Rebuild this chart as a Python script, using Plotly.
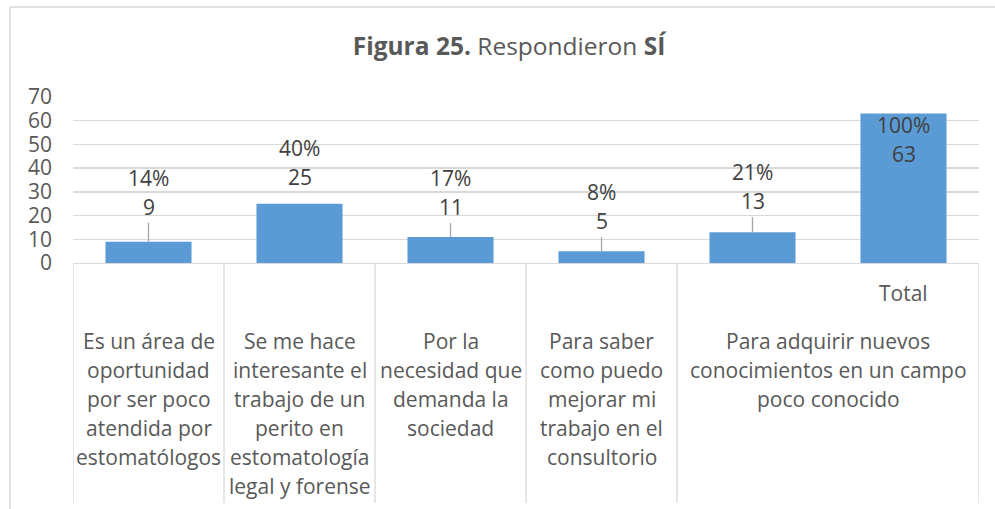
import plotly.graph_objects as go

# ---------------- data ----------------
values = [9, 25, 11, 5, 13, 63]
inner_labels = ["", "", "", "", "", "Total"]
outer_labels = [
    "Es un área de<br>oportunidad<br>por ser poco<br>atendida por<br>estomatólogos",
    "Se me hace<br>interesante el<br>trabajo de un<br>perito en<br>estomatología<br>legal y forense",
    "Por la<br>necesidad que<br>demanda la<br>sociedad",
    "Para saber<br>como puedo<br>mejorar mi<br>trabajo en el<br>consultorio",
    "Para adquirir nuevos<br>conocimientos en un campo<br>poco conocido",
]
outer_spans = [(0, 0), (1, 1), (2, 2), (3, 3), (4, 5)]
y_ticks = [0, 10, 20, 30, 40, 50, 60, 70]
total = values[-1]
percent_labels = [f"{round(v / total * 100)}%" for v in values]

# ---------------- style ----------------
W, H = 995, 509
ML, MR, MT, MB = 73, 16, 97, 246
FONT = "Open Sans, Noto Sans, sans-serif"
FS = 21
BAR_COLOR = "#5B9BD5"
TXT = "#595959"
LBL = "#404040"
GRID = "#D9D9D9"
label_shift_px = [35, 27, 30, 30, 31, -40]   # label position above bar top (manual, as in source)
show_leader = [True, False, True, True, True, False]
LINE_H = 29

x = list(range(len(values)))

fig = go.Figure()
fig.add_trace(go.Bar(
    x=x, y=values, marker=dict(color=BAR_COLOR, line=dict(width=0)),
    hoverinfo="skip", showlegend=False,
))

annotations = []
shapes = []

# data labels
for i, v in enumerate(values):
    s = label_shift_px[i]
    annotations.append(dict(x=i, y=v, xref="x", yref="y", text=str(v), showarrow=False,
                            yshift=s, yanchor="middle", xanchor="center",
                            font=dict(family=FONT, size=FS, color=LBL)))
    annotations.append(dict(x=i, y=v, xref="x", yref="y", text=percent_labels[i], showarrow=False,
                            yshift=s + LINE_H, yanchor="middle", xanchor="center",
                            font=dict(family=FONT, size=FS, color=LBL)))
    if show_leader[i]:
        shapes.append(dict(type="line", xref="x", yref="y", ysizemode="pixel", yanchor=v,
                           x0=i, x1=i, y0=0, y1=s - 16,
                           line=dict(color="#A6A6A6", width=1.3)))

# inner category labels
for i, t in enumerate(inner_labels):
    if t:
        annotations.append(dict(x=i, y=0, xref="x", yref="paper", text=t, showarrow=False,
                                yshift=-(293 - (H - MB)), yanchor="middle", xanchor="center",
                                font=dict(family=FONT, size=FS, color=TXT)))

# outer category labels (one annotation per line for Excel-like spacing)
for lab, (a, b) in zip(outer_labels, outer_spans):
    cx = (a + b) / 2
    for k, line in enumerate(lab.split("<br>")):
        annotations.append(dict(x=cx, y=0, xref="x", yref="paper", text=line, showarrow=False,
                                yshift=-(341 + k * LINE_H - (H - MB)), yanchor="middle",
                                xanchor="center",
                                font=dict(family=FONT, size=FS, color=TXT)))

# category separators
plot_h = H - MT - MB
sep_bottom = -(503 - (H - MB)) / plot_h
for a, b in outer_spans:
    shapes.append(dict(type="line", xref="x", yref="paper", x0=a - 0.5, x1=a - 0.5,
                       y0=0, y1=sep_bottom, line=dict(color=GRID, width=1.3)))
shapes.append(dict(type="line", xref="x", yref="paper", x0=len(values) - 0.5,
                   x1=len(values) - 0.5, y0=0, y1=sep_bottom, line=dict(color=GRID, width=1.3)))

# chart frame (top and left edges visible)
plot_w = W - ML - MR
fx0 = (10 - ML) / plot_w
fy_top = (H - 7 - MB) / plot_h
shapes.append(dict(type="line", xref="paper", yref="paper", x0=fx0, x1=2, y0=fy_top, y1=fy_top,
                   line=dict(color=GRID, width=1.5)))
shapes.append(dict(type="line", xref="paper", yref="paper", x0=fx0, x1=fx0, y0=fy_top, y1=-3,
                   line=dict(color=GRID, width=1.5)))

fig.update_layout(
    width=W, height=H,
    margin=dict(l=ML, r=MR, t=MT, b=MB),
    paper_bgcolor="white", plot_bgcolor="white",
    bargap=0.43,
    title=dict(text="<b>Figura 25.</b> Respondieron <b>SÍ</b>",
               xref="container", yref="container", x=509 / W, xanchor="center",
               y=1 - 46 / H, yanchor="middle",
               font=dict(family=FONT, size=24.5, color=TXT)),
    xaxis=dict(range=[-0.5, len(values) - 0.5], showticklabels=False, showgrid=False,
               zeroline=False, showline=True, linecolor=GRID, linewidth=1.3, ticks=""),
    yaxis=dict(range=[0, 70], tickvals=y_ticks, showgrid=True, gridcolor=GRID, gridwidth=1.3,
               zeroline=False, showline=False, ticks="",
               tickfont=dict(family=FONT, size=FS, color=TXT), ticklabelstandoff=20),
    annotations=annotations,
    shapes=shapes,
    font=dict(family=FONT),
)

fig.write_html("out.html",
               config={"displayModeBar": False, "staticPlot": True},
               post_script="document.body.style.margin='0';document.body.style.overflow='hidden';")
